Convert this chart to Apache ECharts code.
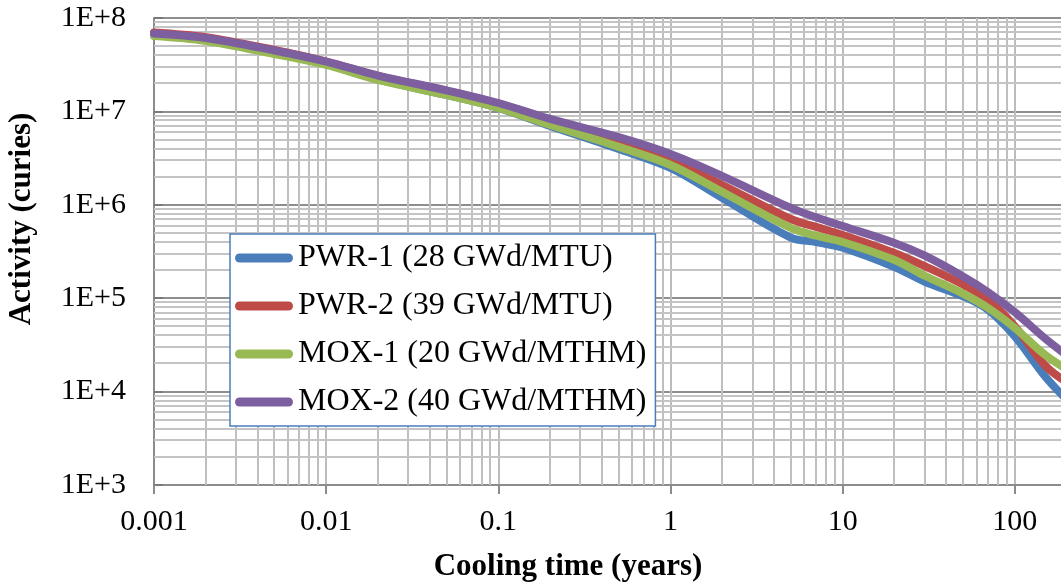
<!DOCTYPE html>
<html>
<head>
<meta charset="utf-8">
<script src="https://cdn.jsdelivr.net/npm/echarts@6/dist/echarts.min.js"></script>
<style>
html,body{margin:0;padding:0;background:#fff;}
#c{width:1061px;height:588px;}
</style>
</head>
<body>
<div id="c"></div>
<script>
// ---- data ----
const times = [0.001, 0.002, 0.005, 0.01, 0.02, 0.05, 0.1, 0.2, 0.5, 1, 2, 5, 7, 10, 20, 30, 50, 70, 100, 150, 200];
const pwr1 = [6.6e7, 5.8e7, 4.2e7, 3.2e7, 2.2e7, 1.5e7, 1.09e7, 6.98e6, 3.95e6, 2.48e6, 1.18e6, 4.45e5, 4.0e5, 3.47e5, 2.16e5, 1.5e5, 1.05e5, 7.5e4, 3.9e4, 1.45e4, 8.2e3];
const pwr2 = [6.98e7, 6.22e7, 4.55e7, 3.42e7, 2.40e7, 1.66e7, 1.21e7, 8.1e6, 4.8e6, 3.0e6, 1.63e6, 7.05e5, 5.8e5, 4.75e5, 3.05e5, 2.2e5, 1.4e5, 9.6e4, 5.0e4, 1.9e4, 1.26e4];
const mox1 = [6.41e7, 5.68e7, 4.12e7, 3.14e7, 2.17e7, 1.5e7, 1.09e7, 7.15e6, 4.17e6, 2.67e6, 1.37e6, 5.65e5, 4.67e5, 4.0e5, 2.56e5, 1.74e5, 1.12e5, 7.85e4, 4.8e4, 2.47e4, 1.74e4];
const mox2 = [6.82e7, 6.1e7, 4.49e7, 3.42e7, 2.42e7, 1.68e7, 1.23e7, 8.3e6, 5.3e6, 3.5e6, 2.03e6, 9.25e5, 7.35e5, 5.93e5, 3.9e5, 2.85e5, 1.71e5, 1.16e5, 7.1e4, 3.7e4, 2.45e4];
const seriesNames = ['PWR-1 (28 GWd/MTU)', 'PWR-2 (39 GWd/MTU)', 'MOX-1 (20 GWd/MTHM)', 'MOX-2 (40 GWd/MTHM)'];
const xTickLabels = ['0.001', '0.01', '0.1', '1', '10', '100', '1000'];
const yTickLabels = ['1E+3', '1E+4', '1E+5', '1E+6', '1E+7', '1E+8'];
const xTitle = 'Cooling time (years)';
const yTitle = 'Activity (curies)';
const xMin = 0.001, xMax = 1000, yMin = 1e3, yMax = 1e8;

// minor gridline positions (2..9 within each decade)
const xMinor = [], yMinor = [];
for (let d = -3; d <= 2; d++) for (let k = 2; k <= 9; k++) xMinor.push(k * Math.pow(10, d));
for (let d = 3; d <= 7; d++) for (let k = 2; k <= 9; k++) yMinor.push(k * Math.pow(10, d));

const colors = ['#4a7ebb', '#be4b48', '#98b954', '#7d5fa0'];
const FONT = '"Liberation Serif", "Times New Roman", serif';

const chart = echarts.init(document.getElementById('c'), null, {renderer: 'canvas'});

function mkLine(name, vals, color, z) {
  return {
    name: name, type: 'line', smooth: 0.35, symbol: 'none', z: z,
    data: times.map((t, i) => [t, vals[i]]),
    lineStyle: {width: 8, color: color, cap: 'round', join: 'round'},
    itemStyle: {color: color},
    emphasis: {disabled: true}
  };
}

const option = {
  animation: false,
  backgroundColor: '#ffffff',
  grid: {left: 154, top: 18, right: -126, height: 467, containLabel: false, outerBoundsMode: 'none'},
  xAxis: {
    type: 'log', logBase: 10, min: xMin, max: xMax, splitNumber: 6,
    axisLine: {show: true, lineStyle: {color: '#8c8c8c', width: 2}},
    axisTick: {show: true, length: 9, inside: false, lineStyle: {color: '#8c8c8c', width: 2}},
    axisLabel: {
      margin: 22, color: '#000', fontFamily: FONT, fontSize: 30,
      formatter: v => xTickLabels[Math.round(Math.log10(v)) + 3]
    },
    splitLine: {show: true, lineStyle: {color: '#bcbcbc', width: 2}},
    minorTick: {show: false}, minorSplitLine: {show: false}
  },
  yAxis: {
    type: 'log', logBase: 10, min: yMin, max: yMax, splitNumber: 5,
    axisLine: {show: true, lineStyle: {color: '#8c8c8c', width: 2}},
    axisTick: {show: true, length: 9, inside: true, lineStyle: {color: '#7a7a7a', width: 2}},
    axisLabel: {
      margin: 28, color: '#000', fontFamily: FONT, fontSize: 30,
      formatter: v => yTickLabels[Math.round(Math.log10(v)) - 3]
    },
    splitLine: {show: true, lineStyle: {color: '#8e8e8e', width: 2}},
    minorTick: {show: false}, minorSplitLine: {show: false}
  },
  legend: {
    data: seriesNames,
    orient: 'vertical',
    left: 230, top: 234,
    padding: [8, 9, 8, 5],
    itemGap: 16,
    itemWidth: 58, itemHeight: 9,
    itemTextGap: 3,
    icon: 'path://M4.5,0 H53.5 A4.5,4.5 0 0 1 53.5,9 H4.5 A4.5,4.5 0 0 1 4.5,0 Z',
    backgroundColor: '#ffffff',
    borderColor: '#4a7ebb', borderWidth: 1.5, borderRadius: 0,
    textStyle: {fontFamily: FONT, fontSize: 32, color: '#000'},
    selectedMode: false,
    z: 10
  },
  graphic: [
    {type: 'text', z: 10, x: 568, y: 567,
     style: {text: xTitle, fill: '#000', font: 'bold 31px ' + FONT, textAlign: 'center', textVerticalAlign: 'middle'}},
    {type: 'text', z: 10, x: 22, y: 219, rotation: Math.PI / 2,
     style: {text: yTitle, fill: '#000', font: 'bold 31px ' + FONT, textAlign: 'center', textVerticalAlign: 'middle'}}
  ],
  series: [
    {
      name: 'xminor', type: 'custom', z: 1, silent: true, clip: false,
      data: xMinor.map(v => [v, yMin]),
      encode: {x: 0, y: 1},
      renderItem: (params, api) => {
        const v = api.value(0);
        const p1 = api.coord([v, yMin]);
        const p2 = api.coord([v, yMax]);
        const x = Math.round(p1[0]);
        return {type: 'line', shape: {x1: x, y1: p1[1], x2: x, y2: p2[1]},
                style: {stroke: '#bfbfbf', lineWidth: 2}};
      }
    },
    {
      name: 'yminor', type: 'custom', z: 1, silent: true, clip: false,
      data: yMinor.map(v => [xMin, v]),
      encode: {x: 0, y: 1},
      renderItem: (params, api) => {
        const v = api.value(1);
        const p1 = api.coord([xMin, v]);
        const p2 = api.coord([xMax, v]);
        const y = Math.round(p1[1]);
        return {type: 'line', shape: {x1: p1[0], y1: y, x2: p2[0], y2: y},
                style: {stroke: '#c4c4c4', lineWidth: 2}};
      }
    },
    mkLine(seriesNames[0], pwr1, colors[0], 3),
    mkLine(seriesNames[1], pwr2, colors[1], 4),
    mkLine(seriesNames[2], mox1, colors[2], 5),
    mkLine(seriesNames[3], mox2, colors[3], 6)
  ]
};
chart.setOption(option);
</script>
</body>
</html>
